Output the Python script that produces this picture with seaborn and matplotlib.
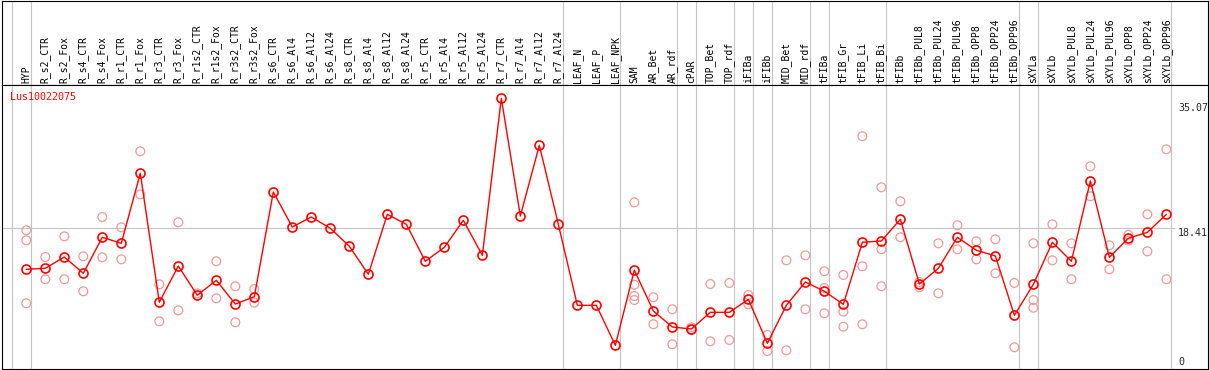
import pandas as pd
import matplotlib.pyplot as plt
import seaborn as sns

# Categories (in plot order)
categories = ["HYP", "R_s2_CTR", "R_s2_Fox", "R_s4_CTR", "R_s4_Fox", "R_r1_CTR", "R_r1_Fox",
              "R_r3_CTR", "R_r3_Fox", "R_r1s2_CTR", "R_r1s2_Fox", "R_r3s2_CTR", "R_r3s2_Fox",
              "R_s6_CTR", "R_s6_Al4", "R_s6_Al12", "R_s6_Al24", "R_s8_CTR", "R_s8_Al4",
              "R_s8_Al12", "R_s8_Al24", "R_r5_CTR", "R_r5_Al4", "R_r5_Al12", "R_r5_Al24",
              "R_r7_CTR", "R_r7_Al4", "R_r7_Al12", "R_r7_Al24", "LEAF_N", "LEAF_P", "LEAF_NPK",
              "SAM", "AR_Bet", "AR_rdf", "cPAR", "TOP_Bet", "TOP_rdf", "iFIBa", "iFIBb",
              "MID_Bet", "MID_rdf", "tFIBa", "tFIB_Gr", "tFIB_Li", "tFIB_Bi", "tFIBb",
              "tFIBb_PUL8", "tFIBb_PUL24", "tFIBb_PUL96", "tFIBb_OPP8", "tFIBb_OPP24",
              "tFIBb_OPP96", "sXYLa", "sXYLb", "sXYLb_PUL8", "sXYLb_PUL24", "sXYLb_PUL96",
              "sXYLb_OPP8", "sXYLb_OPP24", "sXYLb_OPP96"]

# Mean expression per sample
means = [12.98, 13.11, 14.61, 12.45, 17.22, 16.42, 25.70, 8.61, 13.42, 9.54, 11.52, 8.38, 9.35,
         23.22, 18.58, 19.91, 18.41, 16.03, 12.32, 20.26, 18.94, 14.04, 15.89, 19.47, 14.83,
         35.63, 20.04, 29.40, 18.94, 8.21, 8.21, 2.91,
         12.87, 7.46, 5.34, 5.07, 7.28, 7.28, 9.00, 3.18, 8.21, 11.30, 10.07, 8.34, 16.56,
         16.73, 19.60, 11.03, 13.11, 17.22, 15.50, 14.74, 6.89, 10.99, 16.56, 14.04, 24.68,
         14.57, 17.09, 17.88, 20.26]

# Individual replicates per sample
replicates = [[18.15, 16.82, 8.48], [14.61, 11.66], [17.35, 11.66], [14.70, 10.07],
              [19.91, 14.57], [18.54, 14.30], [28.61, 22.91], [10.99, 6.09], [19.21, 7.55],
              [9.80], [14.04, 9.14], [10.73, 5.96], [10.37, 8.56],
              [], [], [], [], [], [], [], [], [], [], [], [], [], [], [], [], [], [], [],
              [21.85, 10.94, 9.44, 8.91], [9.27, 5.70], [7.68, 3.05], [5.30, 4.95],
              [11.03, 3.44], [11.17, 3.62], [9.58, 8.34], [4.28, 2.16], [14.17, 2.25],
              [14.83, 7.68], [12.72, 10.50, 7.15], [12.23, 7.37, 5.38], [30.60, 13.38, 5.70],
              [23.84, 15.64, 10.73], [21.99, 17.22], [11.30, 10.60], [16.42, 9.80],
              [18.81, 15.63], [16.69, 14.30], [16.95, 12.45], [11.17, 2.65],
              [16.42, 8.91, 7.89], [18.94, 14.17], [16.42, 11.66], [26.62, 22.65],
              [16.16, 12.98], [17.56, 16.77], [20.26, 15.36], [28.87, 11.66]]

# last sample index of each group (separator lines)
group_ends = [-1, 0, 28, 31, 34, 35, 37, 38, 39, 41, 42, 45, 52, 53, 60]

gene = "Lus10022075"
y_ticks = [0, 18.41, 35.07]

df = pd.DataFrame({"pos": range(len(categories)), "sample": categories, "mean": means})
rep_df = pd.DataFrame([(i, v) for i, vals in enumerate(replicates) for v in vals],
                      columns=["pos", "value"])

sns.set_style("white")
plt.rcParams["font.family"] = ["DejaVu Sans Mono", "DejaVu Sans"]

pink = "#ee9a9a"
grey = "#c4c4c4"
xlim = (-1.305, 62.19)

fig = plt.figure(figsize=(12.09, 3.70), dpi=100)
ax_h = fig.add_axes([1.5 / 1209, 285 / 370, 1206.5 / 1209, 84.5 / 370])
ax = fig.add_axes([1.5 / 1209, 1 / 370, 1206.5 / 1209, 284 / 370])

for a in (ax_h, ax):
    for s in a.spines.values():
        s.set_color("black")
        s.set_linewidth(0.8)
    a.set_xlim(*xlim)
    for g in group_ends:
        a.axvline(g + 0.23, color=grey, lw=0.8, zorder=0)

# header with sample names
ax_h.set_ylim(0, 1)
ax_h.set_xticks([])
ax_h.set_yticks([])
for i, name in enumerate(categories):
    ax_h.text(i, 0.025, name, rotation=90, ha="center", va="bottom", fontsize=7.0, color="black")

# main plot
ax.hlines(y_ticks[1], xlim[0], len(categories) - 0.54, color=grey, lw=0.8, zorder=0)

sns.scatterplot(data=rep_df, x="pos", y="value", marker="o", s=40, color=pink,
                linewidth=0.9, ax=ax, zorder=2, legend=False)
ax.collections[-1].set_facecolor("none")
ax.collections[-1].set_edgecolor(pink)

sns.lineplot(data=df, x="pos", y="mean", color="red", linewidth=1.0, marker="o",
             markersize=6.5, markerfacecolor="none", markeredgecolor="red",
             markeredgewidth=1.2, ax=ax, zorder=3)

ax.set_ylim(-0.225, 37.39)
ax.set_xlim(*xlim)
ax.set_xticks([])
ax.set_xlabel("")
ax.set_ylabel("")
ax.yaxis.tick_right()
ax.set_yticks(y_ticks)
ax.set_yticklabels(["0", "18.41", "35.07"])
ax.tick_params(axis="y", length=0, pad=-21.6, labelsize=7.2)
for lab in ax.get_yticklabels():
    lab.set_verticalalignment("top")
ax.get_yticklabels()[0].set_verticalalignment("bottom")

ax.text(8.5 / 1206.5, 1 - 11.7 / 284, gene, transform=ax.transAxes, color="red",
        fontsize=7.2, ha="left", va="center")

plt.savefig("out.png", dpi=100)
